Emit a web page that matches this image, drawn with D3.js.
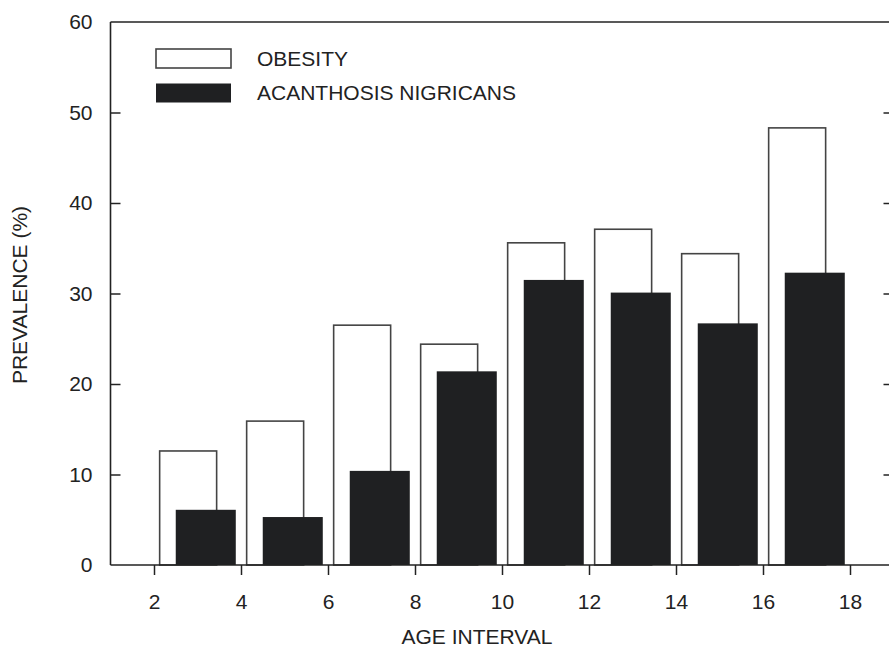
<!DOCTYPE html>
<html>
<head>
<meta charset="utf-8">
<script src="https://cdn.jsdelivr.net/npm/d3@7/dist/d3.min.js"></script>
<style>
  html, body { margin: 0; padding: 0; background: #fff; }
  svg { display: block; font-family: "Liberation Sans", Arial, Helvetica, sans-serif; }
</style>
</head>
<body>
<svg id="chart" width="889" height="651"></svg>
<script>
// ---- data ----
const groupStarts = [2, 4, 6, 8, 10, 12, 14, 16];
const obesity     = [12.6, 15.9, 26.5, 24.4, 35.6, 37.1, 34.4, 48.3];
const acanthosis  = [6.1, 5.3, 10.4, 21.4, 31.5, 30.1, 26.7, 32.3];
const xTicks = [2, 4, 6, 8, 10, 12, 14, 16, 18];
const yTicks = [0, 10, 20, 30, 40, 50, 60];
const seriesNames = ["OBESITY", "ACANTHOSIS NIGRICANS"];

// ---- layout ----
const svg = d3.select("#chart");
const plotLeft = 110.5, plotRight = 893.5, plotTop = 22, plotBottom = 565;
const x = d3.scaleLinear().domain([1, 19]).range([plotLeft, plotRight]);
const y = d3.scaleLinear().domain([0, 60]).range([plotBottom, plotTop]);
const axisColor = "#222";
const fontSize = 21;

// bars
const obOff = 0.13, obW = 1.31;
const anOff = 0.50, anW = 1.38;

svg.append("g").selectAll("rect").data(groupStarts).join("rect")
  .attr("x", (d) => x(d + obOff))
  .attr("width", (d) => x(d + obOff + obW) - x(d + obOff))
  .attr("y", (d, i) => y(obesity[i]))
  .attr("height", (d, i) => y(0) - y(obesity[i]))
  .attr("fill", "#fff")
  .attr("stroke", "#444")
  .attr("stroke-width", 1.6);

svg.append("g").selectAll("rect").data(groupStarts).join("rect")
  .attr("x", (d) => x(d + anOff))
  .attr("width", (d) => x(d + anOff + anW) - x(d + anOff))
  .attr("y", (d, i) => y(acanthosis[i]))
  .attr("height", (d, i) => y(0) - y(acanthosis[i]))
  .attr("fill", "#1f2022");

// axes
function styleAxis(g) {
  g.select(".domain").remove();
  g.selectAll("line").attr("stroke", axisColor).attr("stroke-width", 1.5);
  g.selectAll("text").attr("fill", "#222").attr("font-size", fontSize)
    .attr("font-family", "'Liberation Sans', Arial, sans-serif");
}

const gx = svg.append("g").attr("transform", `translate(0,${plotBottom})`)
  .call(d3.axisBottom(x).tickValues(xTicks).tickSize(10).tickPadding(19));
styleAxis(gx);

const gy = svg.append("g").attr("transform", `translate(${plotLeft},0)`)
  .call(d3.axisLeft(y).tickValues(yTicks).tickSize(-10).tickPadding(18));
styleAxis(gy);
gy.selectAll(".tick line").filter((d) => d === 0 || d === 60).remove();

const gr = svg.append("g").attr("transform", `translate(${plotRight},0)`)
  .call(d3.axisRight(y).tickValues(yTicks.filter(v => v > 0 && v < 60)).tickSize(-10).tickFormat(""));
styleAxis(gr);

// frame lines
const frame = [
  [plotLeft, plotTop, plotRight, plotTop],
  [plotLeft, plotBottom, plotRight, plotBottom],
  [plotLeft, plotTop, plotLeft, plotBottom],
  [plotRight, plotTop, plotRight, plotBottom]
];
svg.append("g").selectAll("line").data(frame).join("line")
  .attr("x1", d => d[0]).attr("y1", d => d[1]).attr("x2", d => d[2]).attr("y2", d => d[3])
  .attr("stroke", axisColor).attr("stroke-width", 1.6);

// axis titles
svg.append("text").attr("x", 477).attr("y", 644).attr("text-anchor", "middle")
  .attr("font-size", fontSize).attr("fill", "#222").text("AGE INTERVAL");
svg.append("text").attr("transform", "translate(27,295) rotate(-90)").attr("text-anchor", "middle")
  .attr("font-size", fontSize).attr("fill", "#222").text("PREVALENCE (%)");

// legend
const legend = svg.append("g");
const legY = [58.5, 93];
seriesNames.forEach((name, i) => {
  legend.append("rect").attr("x", 156).attr("y", legY[i] - 9.5).attr("width", 75).attr("height", 19)
    .attr("fill", i === 0 ? "#fff" : "#1f2022")
    .attr("stroke", i === 0 ? "#444" : "none").attr("stroke-width", 1.6);
  legend.append("text").attr("x", 257).attr("y", legY[i]).attr("dy", "0.35em")
    .attr("font-size", fontSize).attr("fill", "#222").text(name);
});
</script>
</body>
</html>
